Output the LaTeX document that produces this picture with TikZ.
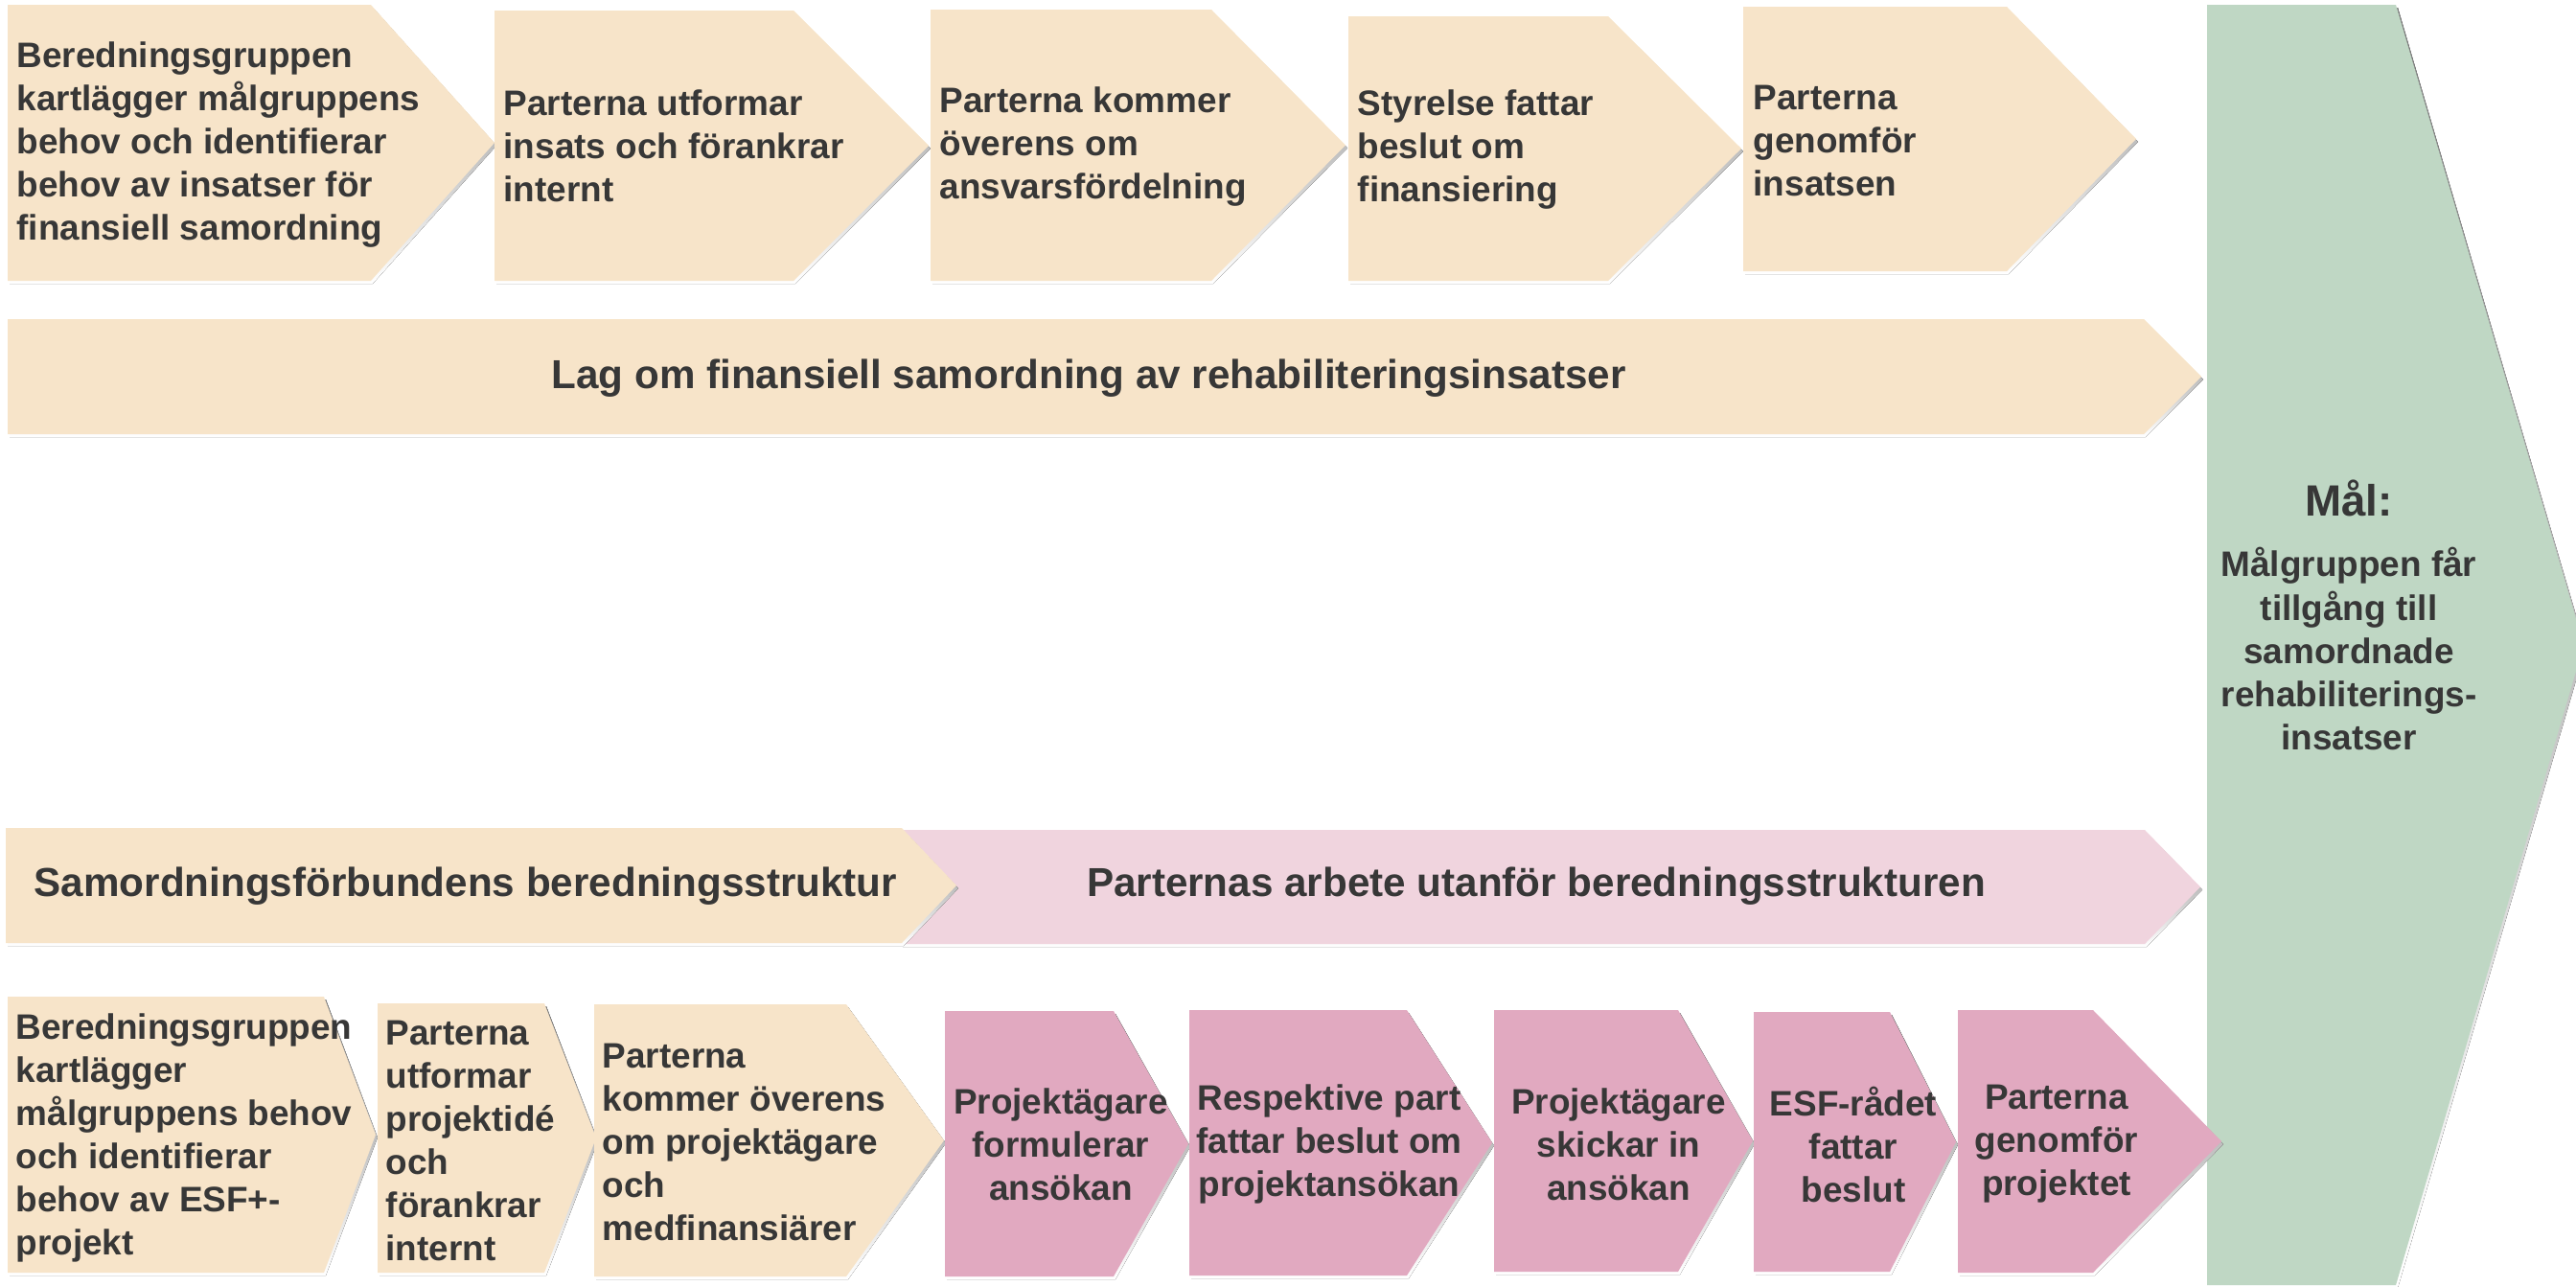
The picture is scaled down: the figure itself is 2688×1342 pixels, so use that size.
\documentclass[tikz,border=0pt]{standalone}
\usepackage{fontspec}
\setmainfont{Liberation Sans}
\usetikzlibrary{positioning}
\definecolor{beige}{RGB}{247,228,201}
\definecolor{rose}{RGB}{240,212,222}
\definecolor{mauve}{RGB}{225,169,192}
\definecolor{sage}{RGB}{191,215,196}
\definecolor{ink}{RGB}{55,55,55}
\definecolor{shade}{RGB}{140,140,140}

% fill, left, top, corner, tip, bottom
\newcommand{\plate}[6]{%
        \fill[shade, shift={(2,3)}] (#2,#3) -- (#4,#3) -- (#5,{(#3+#6)/2}) -- (#4,#6) -- (#2,#6) -- cycle;
        \fill[#1] (#2,#3) -- (#4,#3) -- (#5,{(#3+#6)/2}) -- (#4,#6) -- (#2,#6) -- cycle;
}

\begin{document}
\begin{tikzpicture}[x=0.01cm, y=-0.01cm, inner sep=0pt, txt/.style={anchor=west, align=left, text=ink, font=\bfseries\fontsize{10.5}{12.8}\selectfont}, ctxt/.style={txt, anchor=center, align=center}, bandtxt/.style={text=ink, font=\bfseries\fontsize{12}{14.4}\selectfont}]
        \useasboundingbox (0,0) rectangle (2688,1342);

         %goal arrow
        \plate{sage}{2303}{5}{2500}{2696}{1341}
        \node[ctxt, font=\bfseries\fontsize{13}{15.6}\selectfont] (mal) at (2451,520) {Mål:};
        \node[ctxt] (malgrupp) at (2451,677) {Målgruppen får\\tillgång till\\samordnade\\rehabiliterings-\\insatser};

         %top row
        \plate{beige}{8}{5}{387}{516}{293}
        \plate{beige}{516}{11}{828}{969}{293}
        \plate{beige}{971}{10}{1264}{1404}{293}
        \plate{beige}{1407}{17}{1678}{1817}{293}
        \plate{beige}{1819}{7}{2094}{2229}{283}

        \node[txt] (s1) at (17,151) {Beredningsgruppen\\kartlägger målgruppens\\behov och identifierar\\behov av insatser för\\finansiell samordning};
        \node[txt] (s2) at (525,152) {Parterna utformar\\insats och förankrar\\internt};
        \node[txt] (s3) at (980,153) {Parterna kommer\\överens om\\ansvarsfördelning};
        \node[txt] (s4) at (1416,156) {Styrelse fattar\\beslut om\\finansiering};
        \node[txt] (s5) at (1829,147) {Parterna\\genomför\\insatsen};

         %law band
        \plate{beige}{8}{333}{2237}{2297}{453}
        \node[bandtxt] (lag) at (1136,395) {Lag om finansiell samordning av rehabiliteringsinsatser};

         %structure bands
        \plate{rose}{940}{866}{2238}{2296}{985}
        \plate{beige}{6}{864}{941}{998}{984}
        \node[bandtxt, anchor=west] (sam) at (35,925) {Samordningsförbundens beredningsstruktur};
        \node[bandtxt] (utanfor) at (1603,925) {Parternas arbete utanför beredningsstrukturen};

         %bottom row
        \plate{beige}{8}{1040}{338}{392}{1328}
        \plate{beige}{394}{1047}{568}{622}{1328}
        \plate{beige}{620}{1048}{883}{985}{1332}
        \plate{mauve}{986}{1055}{1162}{1240}{1332}
        \plate{mauve}{1241}{1054}{1468}{1557}{1331}
        \plate{mauve}{1559}{1054}{1751}{1829}{1327}
        \plate{mauve}{1830}{1056}{1972}{2041}{1327}
        \plate{mauve}{2043}{1054}{2184}{2318}{1328}

        \node[txt] (b1) at (16,1187) {Beredningsgruppen\\kartlägger\\målgruppens behov\\och identifierar\\behov av ESF+-\\projekt};
        \node[txt] (b2) at (402,1190) {Parterna\\utformar\\projektidé\\och\\förankrar\\internt};
        \node[txt] (b3) at (628,1192) {Parterna\\kommer överens\\om projektägare\\och\\medfinansiärer};
        \node[ctxt] (p1) at (1107,1194) {Projektägare\\formulerar\\ansökan};
        \node[ctxt] (p2) at (1387,1194) {Respektive part\\fattar beslut om\\projektansökan};
        \node[ctxt] (p3) at (1689,1194) {Projektägare\\skickar in\\ansökan};
        \node[ctxt] (p4) at (1934,1194) {ESF-rådet\\fattar\\beslut};
        \node[ctxt] (p5) at (2146,1194) {Parterna\\genomför\\projektet};

\end{tikzpicture}
\end{document}
